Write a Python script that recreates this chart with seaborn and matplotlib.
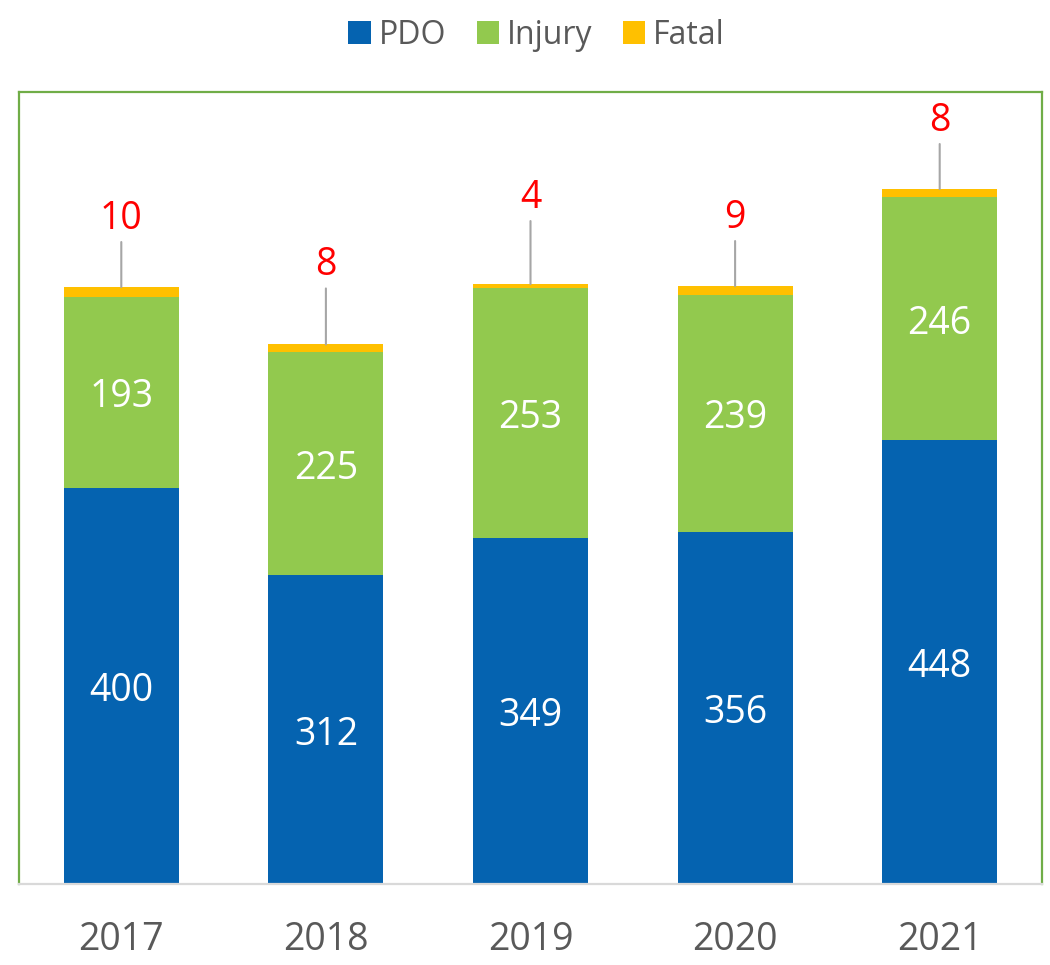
import numpy as np
import pandas as pd
import matplotlib
matplotlib.use("Agg")
import matplotlib.pyplot as plt
import seaborn as sns
from matplotlib.patches import Patch

years = ["2017", "2018", "2019", "2020", "2021"]
pdo = [400, 312, 349, 356, 448]
injury = [193, 225, 253, 239, 246]
fatal = [10, 8, 4, 9, 8]
series_names = ["PDO", "Injury", "Fatal"]

colors = ["#0563B0", "#92C94E", "#FFC000"]
fatal_label_offsets_px = [71, 82, 89, 71, 71]

sns.set_theme(style="white")
plt.rcParams["font.family"] = ["Open Sans", "DejaVu Sans"]

fig = plt.figure(figsize=(10.5, 9.65), dpi=100)
ax = fig.add_axes([19/1050, 81/965, 1023/1050, (884-92)/965])

df = pd.DataFrame({"year": years, "PDO": pdo, "Injury": injury, "Fatal": fatal})
bottoms = np.zeros(len(years))
containers = []
for name, col in zip(series_names, colors):
    sns.barplot(data=df, x="year", y=name, bottom=bottoms.copy(), color=col,
                width=0.562, ax=ax, saturation=1, linewidth=0, errorbar=None)
    containers.append(ax.containers[-1])
    bottoms = bottoms + df[name].values

px2pt = 72/100
for cont, vals in zip(containers[:2], [pdo, injury]):
    texts = ax.bar_label(cont, labels=[str(v) for v in vals], label_type="center",
                         color="white", fontsize=27)
    for t in texts:
        t.xyann = (0, -5*px2pt)

totals = bottoms
for i, (v, t) in enumerate(zip(fatal, totals)):
    ax.annotate(str(v), xy=(i, t), xytext=(0, (fatal_label_offsets_px[i] - 3)*px2pt),
                textcoords="offset points", ha="center", va="center",
                color="#FF0000", fontsize=27,
                arrowprops=dict(arrowstyle="-", color="#A6A6A6", lw=1.5,
                                patchA=None, shrinkA=23*px2pt, shrinkB=0))

ax.set_xlim(-0.5, 4.5)
ax.set_ylim(0, 800)
ax.set_xlabel("")
ax.set_ylabel("")
ax.set_yticks([])
ax.tick_params(axis="x", length=0, pad=27, labelsize=27, labelcolor="#595959")
for s in ["top", "left", "right"]:
    ax.spines[s].set_color("#70AD47")
    ax.spines[s].set_linewidth(1.6)
ax.spines["bottom"].set_color("#D9D9D9")
ax.spines["bottom"].set_linewidth(1.6)

handles = [Patch(facecolor=c, edgecolor="none") for c in colors]
leg = fig.legend(handles, series_names, loc="center", bbox_to_anchor=(0.511, 1 - 35/965),
                 ncol=3, frameon=False, fontsize=23, handlelength=0.7, handleheight=0.7,
                 handletextpad=0.25, columnspacing=0.95)
for t in leg.get_texts():
    t.set_color("#595959")

fig.savefig("out.png", dpi=100)
